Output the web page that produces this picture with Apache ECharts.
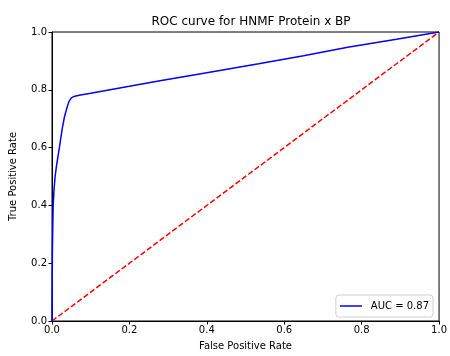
<!DOCTYPE html>
<html><head><meta charset="utf-8">
<script src="https://cdn.jsdelivr.net/npm/echarts@6/dist/echarts.min.js"></script>
<style>html,body{margin:0;padding:0;background:#fff}#c{width:450px;height:356px}</style>
</head><body><div id="c"></div>
<script>
var fpr = [0, 0.0005, 0.001, 0.002, 0.003, 0.005, 0.008, 0.012, 0.018, 0.023, 0.027, 0.032, 0.038, 0.044, 0.05, 0.057, 0.07, 0.1, 0.15, 0.2, 0.279, 0.4, 0.534, 0.65, 0.764, 0.89, 1.0];
var tpr = [0, 0.12, 0.24, 0.33, 0.40, 0.45, 0.50, 0.54, 0.59, 0.635, 0.67, 0.705, 0.735, 0.76, 0.772, 0.777, 0.781, 0.788, 0.800, 0.812, 0.831, 0.859, 0.890, 0.918, 0.947, 0.975, 1.0];
var diagX = [0, 1];
var diagY = [0, 1];
var title = 'ROC curve for HNMF Protein x BP';
var legendName = 'AUC = 0.87';

var F = 'DejaVu Sans';
var chart = echarts.init(document.getElementById('c'));
chart.setOption({
  animation: false,
  backgroundColor: '#fff',
  title: { text: title, left: 246, top: 11, textAlign: 'center',
    textStyle: { fontFamily: F, fontSize: 12, fontWeight: 'normal', color: '#000' } },
  grid: { left: 51, right: 8, top: 32, bottom: 33, show: true, borderColor: '#000', borderWidth: 1, containLabel: false },
  legend: {
    data: [{ name: legendName, icon: 'rect' }], right: 17, bottom: 39, orient: 'vertical',
    backgroundColor: '#fff', borderColor: '#d0d0d0', borderWidth: 1, borderRadius: 3,
    padding: [6, 4, 6, 4], itemWidth: 22, itemHeight: 1.5, itemGap: 8,
    textStyle: { fontFamily: F, fontSize: 10, color: '#000', padding: [0, 0, 0, 4] }
  },
  xAxis: {
    type: 'value', min: 0, max: 1, interval: 0.2,
    name: 'False Positive Rate', nameLocation: 'middle', nameGap: 20,
    nameTextStyle: { fontFamily: F, fontSize: 10, color: '#000' },
    axisLine: { show: true, onZero: false, lineStyle: { color: '#000', width: 1 } },
    axisTick: { show: true, inside: false, length: 3.5, lineStyle: { color: '#000' } },
    axisLabel: { fontFamily: F, fontSize: 10, color: '#000', margin: 4, formatter: function (v) { return v.toFixed(1); } },
    splitLine: { show: false }
  },
  yAxis: {
    type: 'value', min: 0, max: 1, interval: 0.2,
    name: 'True Positive Rate', nameLocation: 'middle', nameGap: 34,
    nameTextStyle: { fontFamily: F, fontSize: 10, color: '#000' },
    axisLine: { show: true, onZero: false, lineStyle: { color: '#000', width: 1 } },
    axisTick: { show: true, inside: false, length: 3.5, lineStyle: { color: '#000' } },
    axisLabel: { fontFamily: F, fontSize: 10, color: '#000', margin: 5, formatter: function (v) { return v.toFixed(1); } },
    splitLine: { show: false }
  },
  series: [
    { name: legendName, type: 'line', symbol: 'none', smooth: false,
      data: fpr.map(function (x, i) { return [x, tpr[i]]; }),
      lineStyle: { color: '#0000ff', width: 1.5 }, itemStyle: { color: '#0000ff' }, z: 3 },
    { name: 'diag', type: 'line', symbol: 'none',
      data: diagX.map(function (x, i) { return [x, diagY[i]]; }),
      lineStyle: { color: '#ff0000', width: 1.5, type: [5.5, 2.4] }, itemStyle: { color: '#ff0000' }, z: 2 }
  ]
});
</script></body></html>
